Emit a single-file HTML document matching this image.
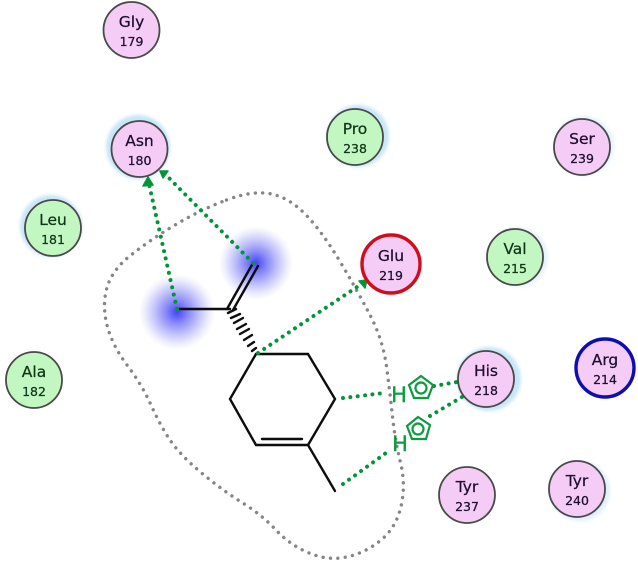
<!DOCTYPE html>
<html>
<head>
<meta charset="utf-8">
<style>
html,body{margin:0;padding:0;background:#fff;}
svg{display:block;}
text{font-family:"DejaVu Sans","Liberation Sans",sans-serif;text-anchor:middle;}
.p text{fill:#1c0c30;stroke:#1c0c30;stroke-width:0.25;}
.g text{fill:#0c3418;stroke:#0c3418;stroke-width:0.25;}
.n{font-size:15.5px;}
.d{font-size:12.5px;}
</style>
</head>
<body>
<svg width="638" height="565" viewBox="0 0 638 565" xmlns="http://www.w3.org/2000/svg">
<defs>
<radialGradient id="b"><stop offset="0" stop-color="#4444f5"/><stop offset="0.3" stop-color="#8a8af8"/><stop offset="0.6" stop-color="#c4c4fb"/><stop offset="0.85" stop-color="#eeeefe"/><stop offset="1" stop-color="#ffffff"/></radialGradient>
<filter id="s" x="-5%" y="-5%" width="110%" height="110%"><feGaussianBlur stdDeviation="0.35"/></filter>
<filter id="t" x="-5%" y="-5%" width="110%" height="110%"><feGaussianBlur stdDeviation="0.25"/></filter>
<filter id="h" x="-20%" y="-20%" width="140%" height="140%"><feGaussianBlur stdDeviation="1.5"/></filter>
</defs>
<rect width="638" height="565" fill="#fff"/>
<g filter="url(#h)" fill="#c8e6f8">
<circle cx="138" cy="147" r="32"/>
<circle cx="358" cy="136" r="31"/>
<circle cx="51" cy="226" r="31"/>
<circle cx="489" cy="379" r="32"/>
<circle cx="584" cy="146" r="30" fill="#e6f3fb"/>
<circle cx="518" cy="257" r="30" fill="#e6f3fb"/>
<circle cx="580" cy="491" r="30" fill="#e0f0fa"/>
</g>
<circle cx="177" cy="312" r="38" fill="url(#b)"/>
<circle cx="256" cy="263" r="37" fill="url(#b)"/>
<g filter="url(#s)">
<path fill="none" stroke="#858585" stroke-width="3.4" stroke-linecap="round" stroke-dasharray="0.01 7.4" d="M226.5,200 Q253,190 271.5,194 Q290,198 306.5,215.5 Q323,233 340,261.5 Q357,290 370,315 Q383,340 386.5,366.5 Q390,393 392.5,416.5 Q395,440 400.5,462.5 Q406,485 401,506.5 Q396,528 380.5,540.5 Q365,553 346.5,557 Q328,561 309,553 Q290,545 276,530 Q262,515 242,502.5 Q222,490 201,472.5 Q180,455 170,440 Q160,425 151,405 Q142,385 127,365 Q112,345 107,325 Q102,305 107,287.5 Q112,270 131,255 Q150,240 175,225 Q200,210 226.5,200 Z"/>
<g fill="none" stroke="#0a0a0a" stroke-width="2.4" stroke-linecap="round">
<polygon points="256,354 308,354 335,399 308,445 256,445 230,399"/>
<line x1="262" y1="439" x2="302" y2="439"/>
<line x1="308" y1="445" x2="335" y2="491"/>
<line x1="177" y1="309" x2="230" y2="309"/>
<line x1="227" y1="309" x2="253" y2="263"/>
<line x1="233" y1="310" x2="258" y2="266"/>
<g stroke-width="2.4">
<line x1="228" y1="313" x2="236" y2="309"/>
<line x1="231" y1="318" x2="240" y2="314"/>
<line x1="234" y1="323" x2="243" y2="318"/>
<line x1="237" y1="329" x2="246" y2="324"/>
<line x1="240" y1="334" x2="249" y2="329"/>
<line x1="244" y1="340" x2="252" y2="335"/>
<line x1="248" y1="346" x2="254" y2="342"/>
<line x1="252" y1="351" x2="256" y2="348"/>
</g>
</g>
<g fill="none" stroke="#009638" stroke-width="4" stroke-linecap="round" stroke-dasharray="0.01 7.4">
<line x1="177" y1="309" x2="149" y2="184"/>
<line x1="253" y1="263" x2="166" y2="175"/>
<line x1="258" y1="353" x2="360" y2="285"/>
<line x1="343" y1="398" x2="384" y2="393"/>
<line x1="343" y1="484" x2="386" y2="453"/>
<line x1="434" y1="386" x2="457" y2="382"/>
<line x1="430" y1="416" x2="462" y2="397"/>
</g>
<g fill="#009638" stroke="#009638" stroke-width="1.5" stroke-linejoin="round">
<polygon points="148,177 143,186 153,185"/>
<polygon points="160,171 168,171 163,178"/>
<polygon points="367,280 359,281 365,288"/>
</g>
<g fill="none" stroke="#109a40" stroke-width="2.2">
<polygon points="421,376 433,385 428,398 414,398 409,385"/>
<polygon points="418,417 430,425 426,439 412,439 407,426"/>
<circle cx="421" cy="388" r="5.5"/>
<circle cx="418" cy="429" r="5.5"/>
</g>
<text x="399" y="402" style="font-size:21px;fill:#109a40;stroke:#109a40;stroke-width:.4">H</text>
<text x="400" y="451" style="font-size:21px;fill:#109a40;stroke:#109a40;stroke-width:.4">H</text>
<g stroke="#4a4a4a" stroke-width="1.8" fill="#f5ccf5">
<circle cx="131.5" cy="30" r="28"/>
<circle cx="139.5" cy="149" r="28"/>
<circle cx="486" cy="379" r="28"/>
<circle cx="467" cy="495" r="28"/>
<circle cx="582" cy="147" r="28"/>
<circle cx="577" cy="489" r="28"/>
</g>
<g stroke="#4a4a4a" stroke-width="1.8" fill="#c2f7c2">
<circle cx="355" cy="137" r="28"/>
<circle cx="53" cy="228" r="28"/>
<circle cx="34" cy="380" r="28"/>
<circle cx="515" cy="257" r="28"/>
</g>
<circle cx="391" cy="264" r="29" fill="#f5ccf5" stroke="#d0101a" stroke-width="3.4"/>
<circle cx="605" cy="368" r="29" fill="#f5ccf5" stroke="#1010b0" stroke-width="3.4"/>
</g>
<g filter="url(#t)">
<g class="p">
<text class="n" x="131.5" y="27">Gly</text><text class="d" x="131.5" y="46">179</text>
<text class="n" x="139.5" y="146">Asn</text><text class="d" x="139.5" y="165">180</text>
<text class="n" x="391" y="261">Glu</text><text class="d" x="391" y="280">219</text>
<text class="n" x="582" y="144">Ser</text><text class="d" x="582" y="163">239</text>
<text class="n" x="486" y="376">His</text><text class="d" x="486" y="395">218</text>
<text class="n" x="605" y="365">Arg</text><text class="d" x="605" y="384">214</text>
<text class="n" x="467" y="492">Tyr</text><text class="d" x="467" y="511">237</text>
<text class="n" x="577" y="486">Tyr</text><text class="d" x="577" y="505">240</text>
</g>
<g class="g">
<text class="n" x="355" y="134">Pro</text><text class="d" x="355" y="153">238</text>
<text class="n" x="53" y="225">Leu</text><text class="d" x="53" y="244">181</text>
<text class="n" x="34" y="377">Ala</text><text class="d" x="34" y="396">182</text>
<text class="n" x="515" y="254">Val</text><text class="d" x="515" y="273">215</text>
</g>
</g>
</svg>
</body>
</html>
